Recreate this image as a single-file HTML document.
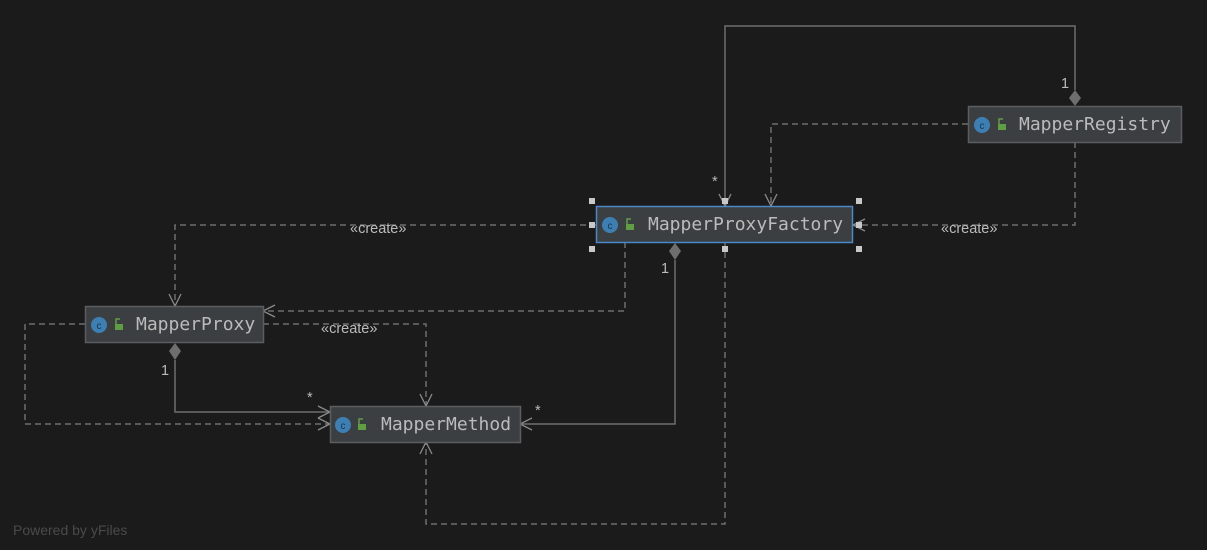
<!DOCTYPE html>
<html><head><meta charset="utf-8"><style>
html,body{margin:0;padding:0;background:#1b1b1c;}
svg{display:block}
.n{fill:#3c3f41;stroke:#5b5d5f;stroke-width:1.5}
.t{font-family:"DejaVu Sans Mono","Liberation Mono",monospace;font-size:18px;fill:#bbbbbb}
.s{fill:none;stroke:#6e6e6e;stroke-width:1.5}
.d{fill:none;stroke:#6e6e6e;stroke-width:1.5;stroke-dasharray:6,4}
.a{fill:none;stroke:#8a8a8a;stroke-width:1.3}
.l{font-family:"Liberation Sans",sans-serif;font-size:14.5px;fill:#bbbbbb}
.dm{fill:#6e6e6e}
</style></head><body>
<svg width="1207" height="550" viewBox="0 0 1207 550">
<rect width="1207" height="550" fill="#1b1b1c"/>
<path class="s" d="M1075 90 V26 H725 V206"/>
<polygon class="dm" points="1075,90 1081,98 1075,106 1069,98"/>
<path class="a" d="M719 194 L725 206 L731 194"/>
<text class="l" x="1061" y="88">1</text><text class="l" x="712" y="186">*</text>

<path class="d" d="M968 124 H771 V206"/>
<path class="a" d="M765 194 L771 206 L777 194"/>

<path class="d" d="M1075 142 V225 H853"/>
<path class="a" d="M865 219 L853 225 L865 231"/>
<text class="l" x="941" y="233">«create»</text>

<path class="d" d="M596 225 H175 V306"/>
<path class="a" d="M169 294 L175 306 L181 294"/>
<text class="l" x="350" y="233">«create»</text>

<path class="d" d="M625 242 V311 H263"/>
<path class="a" d="M275 305 L263 311 L275 317"/>

<path class="s" d="M675 260 V424 H520"/>
<polygon class="dm" points="675,243 681,251 675,260 669,251"/>
<path class="a" d="M532 418 L520 424 L532 430"/>
<text class="l" x="661" y="273">1</text><text class="l" x="535" y="415">*</text>

<path class="d" d="M725 242 V524 H426 V442"/>
<path class="a" d="M420 454 L426 442 L432 454"/>

<path class="d" d="M263 324 H426 V406"/>
<path class="a" d="M420 394 L426 406 L432 394"/>
<text class="l" x="321" y="333">«create»</text>

<path class="s" d="M175 360 V412 H330"/>
<polygon class="dm" points="175,343 181,351 175,360 169,351"/>
<path class="a" d="M318 406 L330 412 L318 418"/>
<text class="l" x="161" y="375">1</text><text class="l" x="307" y="402">*</text>

<path class="d" d="M85 324 H25 V424 H330"/>
<path class="a" d="M318 418 L330 424 L318 430"/>

<g>
<rect class="n" x="968.5" y="106.5" width="213" height="36"/>
<circle cx="982" cy="125" r="8" fill="#3d7fb3"/><text x="982" y="129" font-size="10" fill="#1b3550" text-anchor="middle" font-family="Liberation Sans,sans-serif">c</text>
<rect x="998" y="124" width="8" height="6" fill="#5f9e43"/><path d="M999 124 V119 H1003" stroke="#5f9e43" stroke-width="1.5" fill="none"/>
<text class="t" x="1019" y="130">MapperRegistry</text>
</g>
<g>
<rect x="596.5" y="206.5" width="256" height="36" fill="#3c3f41" stroke="#4a88c7" stroke-width="1.5"/>
<circle cx="610" cy="225" r="8" fill="#3d7fb3"/><text x="610" y="229" font-size="10" fill="#1b3550" text-anchor="middle" font-family="Liberation Sans,sans-serif">c</text>
<rect x="626" y="224" width="8" height="6" fill="#5f9e43"/><path d="M627 224 V219 H631" stroke="#5f9e43" stroke-width="1.5" fill="none"/>
<text class="t" x="648" y="230">MapperProxyFactory</text>
<g fill="#c8c8c8"><rect x="589" y="198" width="6" height="6"/><rect x="856" y="198" width="6" height="6"/><rect x="589" y="246" width="6" height="6"/><rect x="856" y="246" width="6" height="6"/><rect x="589" y="222" width="6" height="6"/><rect x="856" y="222" width="6" height="6"/><rect x="722" y="246" width="6" height="6"/><rect x="722" y="198" width="6" height="6"/></g>
</g>
<g>
<rect class="n" x="85.5" y="306.5" width="178" height="36"/>
<circle cx="99" cy="325" r="8" fill="#3d7fb3"/><text x="99" y="329" font-size="10" fill="#1b3550" text-anchor="middle" font-family="Liberation Sans,sans-serif">c</text>
<rect x="115" y="324" width="8" height="6" fill="#5f9e43"/><path d="M116 324 V319 H120" stroke="#5f9e43" stroke-width="1.5" fill="none"/>
<text class="t" x="136" y="330">MapperProxy</text>
</g>
<g>
<rect class="n" x="330.5" y="406.5" width="190" height="36"/>
<circle cx="343" cy="425" r="8" fill="#3d7fb3"/><text x="343" y="429" font-size="10" fill="#1b3550" text-anchor="middle" font-family="Liberation Sans,sans-serif">c</text>
<rect x="358" y="424" width="8" height="6" fill="#5f9e43"/><path d="M359 424 V419 H363" stroke="#5f9e43" stroke-width="1.5" fill="none"/>
<text class="t" x="381" y="430">MapperMethod</text>
</g>
<text x="13" y="535" font-family="Liberation Sans,sans-serif" font-size="14" fill="#4a4a4a">Powered by yFiles</text>
</svg>
</body></html>
